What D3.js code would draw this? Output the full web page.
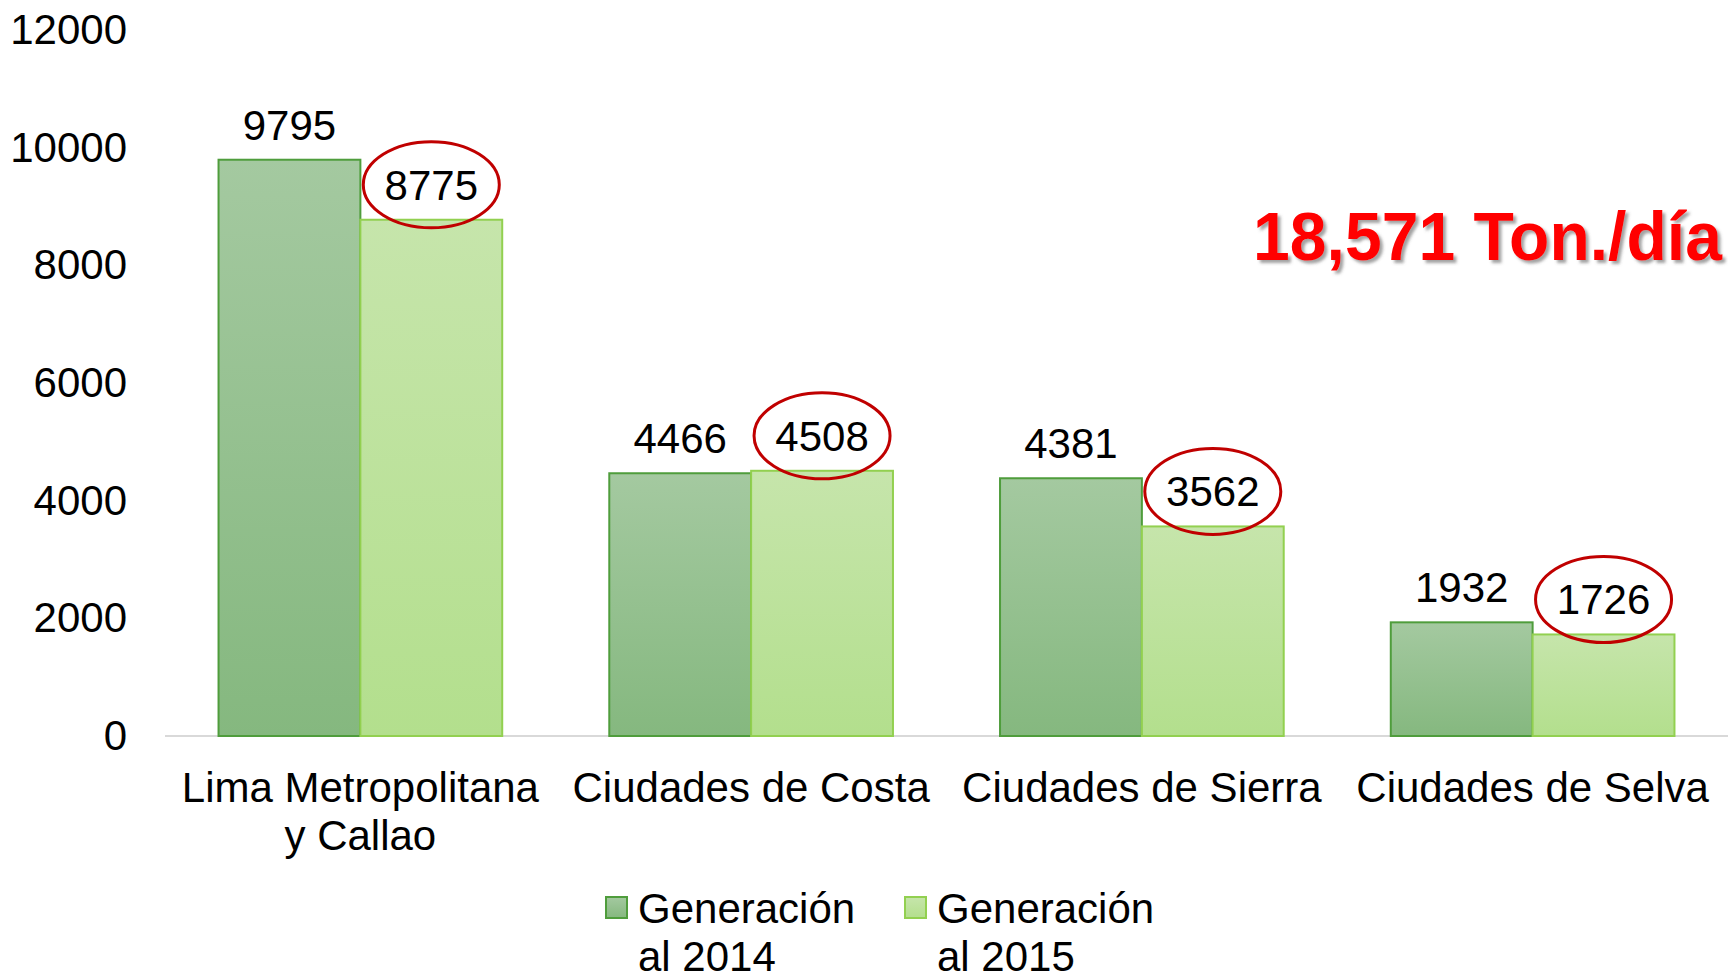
<!DOCTYPE html>
<html lang="es">
<head>
<meta charset="UTF-8">
<title>Generación de residuos</title>
<style>
  body { margin: 0; background: #fff; }
  svg text { font-family: "Liberation Sans", Arial, sans-serif; fill: #000; }
</style>
</head>
<body>
<svg width="1728" height="974"></svg>
<script src="https://d3js.org/d3.v7.min.js"></script>
<script>
var categories = [["Lima Metropolitana", "y Callao"], ["Ciudades de Costa"], ["Ciudades de Sierra"], ["Ciudades de Selva"]];
var series = ["Generación al 2014", "Generación al 2015"];
var gen2014 = [9795, 4466, 4381, 1932];
var gen2015 = [8775, 4508, 3562, 1726];
var yTicks = [0, 2000, 4000, 6000, 8000, 10000, 12000];
var totalLabel = "18,571 Ton./día";

var svg = d3.select("svg"),
    margin = {top: 30, right: 0, bottom: 238, left: 165};
var width = +svg.attr("width") - margin.left - margin.right;
var height = +svg.attr("height") - margin.top - margin.bottom;

var defs = svg.append("defs");
function grad(id, top, bottom) {
  var g = defs.append("linearGradient").attr("id", id)
    .attr("x1", 0).attr("y1", 0).attr("x2", 0).attr("y2", 1);
  g.append("stop").attr("offset", "0%").attr("stop-color", top);
  g.append("stop").attr("offset", "100%").attr("stop-color", bottom);
}
grad("g2014", "#a4c9a0", "#85b87f");
grad("g2015", "#c6e5ab", "#b3df8d");
var shadow = defs.append("filter").attr("id", "shadow")
  .attr("x", "-5%").attr("y", "-20%").attr("width", "115%").attr("height", "150%");
shadow.append("feDropShadow").attr("dx", 3).attr("dy", 3).attr("stdDeviation", 1.5)
  .attr("flood-color", "#555").attr("flood-opacity", 0.55);

var fills = ["url(#g2014)", "url(#g2015)"];
var strokes = ["#4f9d3c", "#92d050"];

var chart = svg.append("g").attr("transform", "translate(" + margin.left + "," + margin.top + ")");

var x0 = d3.scaleBand().domain(d3.range(categories.length)).range([0, width])
  .paddingInner(0.274).paddingOuter(0.137);
var x1 = d3.scaleBand().domain([0, 1]).range([0, x0.bandwidth()]);
var y = d3.scaleLinear().domain([0, 12000]).range([height + 0, 0]);

// axis line
chart.append("line").attr("x1", 0).attr("x2", width)
  .attr("y1", y(0)).attr("y2", y(0))
  .attr("stroke", "#d9d9d9").attr("stroke-width", 2);

// y axis labels
var yAxis = d3.axisLeft(y).tickValues(yTicks).tickSize(0).tickPadding(38).tickFormat(d3.format("d"));
var ya = chart.append("g").call(yAxis);
ya.select(".domain").remove();
ya.selectAll("text").style("font-size", "42px").attr("font-family", null).attr("fill", "#000");

var data = d3.range(categories.length).map(function(i) {
  return {i: i, vals: [gen2014[i], gen2015[i]]};
});

var groups = chart.selectAll(".grp").data(data).enter().append("g")
  .attr("transform", function(d) { return "translate(" + x0(d.i) + ",0)"; });

groups.selectAll("rect").data(function(d) { return d.vals.map(function(v, s) { return {v: v, s: s}; }); })
  .enter().append("rect")
  .attr("x", function(d) { return x1(d.s); })
  .attr("width", x1.bandwidth())
  .attr("y", function(d) { return y(d.v); })
  .attr("height", function(d) { return y(0) - y(d.v); })
  .attr("fill", function(d) { return fills[d.s]; })
  .attr("stroke", function(d) { return strokes[d.s]; })
  .attr("stroke-width", 2);

groups.selectAll(".val").data(function(d) { return d.vals.map(function(v, s) { return {v: v, s: s}; }); })
  .enter().append("text")
  .attr("x", function(d) { return x1(d.s) + x1.bandwidth() / 2; })
  .attr("y", function(d) { return y(d.v) - 20; })
  .attr("text-anchor", "middle")
  .style("font-size", "42px")
  .text(function(d) { return d.v; });

// red ellipses round the 2015 values
groups.append("ellipse")
  .attr("cx", x1(1) + x1.bandwidth() / 2)
  .attr("cy", function(d) { return y(d.vals[1]) - 35; })
  .attr("rx", 68).attr("ry", 43)
  .attr("fill", "none").attr("stroke", "#c00000").attr("stroke-width", 3);

// category labels
groups.append("text")
  .attr("x", x0.bandwidth() / 2)
  .attr("text-anchor", "middle")
  .style("font-size", "42px")
  .selectAll("tspan").data(function(d) { return categories[d.i]; })
  .enter().append("tspan")
  .attr("x", x0.bandwidth() / 2)
  .attr("y", function(d, k) { return y(0) + 66 + k * 48; })
  .text(function(d) { return d; });

// legend
var legendX = [606, 905];
var legend = svg.selectAll(".leg").data(series).enter().append("g")
  .attr("transform", function(d, i) { return "translate(" + legendX[i] + ",897)"; });
legend.append("rect").attr("width", 21).attr("height", 21)
  .attr("fill", function(d, i) { return fills[i]; })
  .attr("stroke", function(d, i) { return strokes[i]; })
  .attr("stroke-width", 2);
legend.append("text").style("font-size", "42px")
  .selectAll("tspan").data(function(d) { return [d.slice(0, 10), d.slice(11)]; })
  .enter().append("tspan")
  .attr("x", 32).attr("y", function(d, k) { return 26 + k * 48; })
  .text(function(d) { return d; });

// total annotation
svg.append("text")
  .attr("x", 1253).attr("y", 260)
  .attr("textLength", 469).attr("lengthAdjust", "spacingAndGlyphs")
  .style("font-size", "68px").style("font-weight", "bold")
  .style("fill", "#ff0000")
  .attr("filter", "url(#shadow)")
  .text(totalLabel);
</script>
</body>
</html>
